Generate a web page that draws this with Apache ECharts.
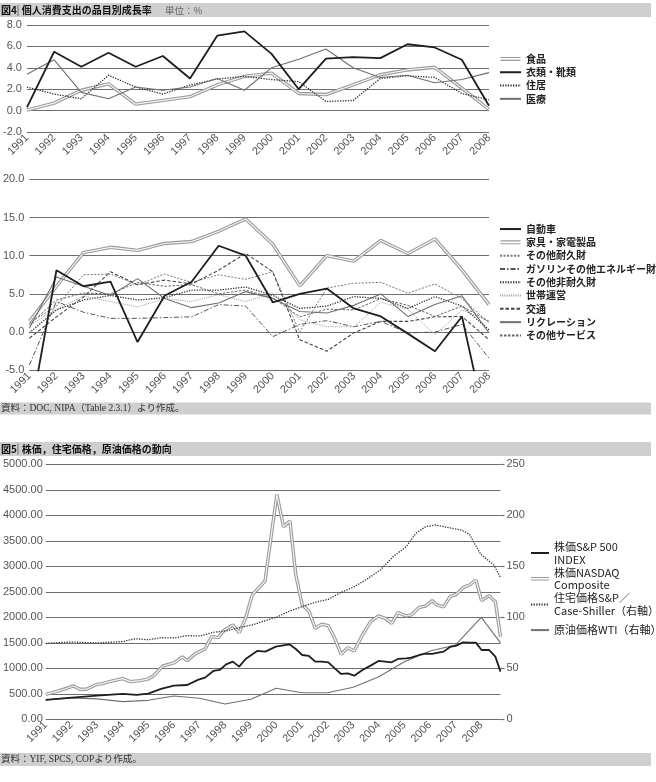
<!DOCTYPE html>
<html>
<head>
<meta charset="utf-8">
<script src="https://cdn.jsdelivr.net/npm/echarts@6/dist/echarts.min.js"></script>
<style>
html, body { margin: 0; padding: 0; background: #fff; }
#main { width: 656px; height: 782px; }
</style>
</head>
<body>
<div id="main"></div>
<script>
// 年（図4の横軸）
var years = ['1991', '1992', '1993', '1994', '1995', '1996', '1997', '1998', '1999',
    '2000', '2001', '2002', '2003', '2004', '2005', '2006', '2007', '2008'];

// 図4 上段（%）
var food = [0.05, 0.7, 1.9, 2.5, 0.6, 0.95, 1.3, 2.4, 3.2, 3.5, 1.6, 1.5, 2.4, 3.35, 3.8, 4.05, 2.1, 0.1];
var clothing = [0.3, 5.5, 4.1, 5.4, 4.1, 5.1, 3.0, 7.0, 7.4, 5.3, 2.0, 4.85, 5.0, 4.9, 6.2, 5.9, 4.75, 0.45];
var housing = [2.2, 1.55, 1.1, 3.3, 2.2, 1.55, 2.4, 2.95, 3.2, 2.9, 2.7, 0.85, 0.95, 3.0, 3.25, 3.1, 1.6, 1.0];
var medical = [3.4, 4.75, 1.7, 1.1, 2.2, 1.9, 2.2, 3.0, 1.9, 4.0, 4.8, 5.75, 4.0, 3.1, 3.3, 2.6, 2.9, 3.55];

// 図4 下段（%）
var autos = [-11.5, 8.1, 6.0, 6.6, -1.3, 4.75, 6.6, 11.3, 10.0, 3.9, 5.0, 5.7, 3.1, 2.05, -0.2, -2.5, 2.05, -14];
var furniture = [1.4, 6.0, 10.4, 11.1, 10.7, 11.6, 11.85, 13.2, 14.8, 11.5, 6.05, 10.0, 9.3, 12.0, 10.3, 12.2, 8.15, 3.6];
var otherDurable = [1.2, 3.4, 7.5, 7.6, 6.2, 7.6, 6.5, 7.5, 6.9, 7.9, 0.0, 5.75, 6.4, 6.5, 5.1, 6.3, 4.4, 1.2];
var gasoline = [-4.3, 4.0, 2.6, 1.8, 1.8, 1.9, 2.0, 3.6, 3.4, -0.6, 1.0, 1.5, 0.7, 1.4, -0.1, 0.0, 1.0, -3.4];
var otherNondurable = [-0.1, 2.9, 4.2, 4.8, 4.2, 4.5, 5.5, 5.5, 5.9, 4.8, 3.1, 3.4, 4.65, 4.4, 3.1, 4.65, 3.4, 0.3];
var household = [0.9, 3.0, 4.7, 4.0, 3.3, 4.4, 4.0, 4.9, 4.0, 5.1, 1.6, 0.7, 0.7, 3.9, 3.0, -0.35, 2.9, 1.4];
var transport = [-0.8, 2.0, 4.6, 7.9, 6.2, 6.8, 6.3, 8.1, 10.3, 7.9, -1.0, -2.5, -0.1, 1.4, 1.4, 2.0, 2.05, -1.0];
var recreation = [0.5, 7.2, 6.0, 4.8, 7.0, 4.4, 3.2, 3.8, 5.3, 4.4, 2.7, 2.5, 3.5, 5.0, 2.05, 3.6, 4.75, -0.1];
var otherServices = [1.0, 4.2, 5.1, 5.0, 6.5, 6.0, 6.2, 5.0, 5.5, 4.5, 2.0, 3.0, 2.9, 4.4, 3.5, 2.05, 3.4, 1.4];

// 図5 [年, 値]
var sp500 = [[1991.0, 379], [1992.02, 425], [1993.0, 464], [1994.0, 497], [1994.55, 477], [1995.0, 503],
    [1995.5, 595], [1996.0, 660], [1996.52, 673], [1996.96, 778], [1997.22, 817], [1997.54, 948],
    [1997.79, 967], [1998.04, 1078], [1998.3, 1131], [1998.55, 1033], [1998.8, 1183], [1999.25, 1340],
    [1999.57, 1327], [1999.98, 1425], [2000.51, 1471], [2000.76, 1379], [2001.01, 1261], [2001.27, 1242],
    [2001.52, 1131], [2001.77, 1131], [2002.03, 1118], [2002.28, 1000], [2002.53, 889], [2002.79, 902],
    [2003.04, 856], [2003.36, 967], [2003.68, 1052], [2003.99, 1144], [2004.25, 1131], [2004.5, 1118],
    [2004.75, 1183], [2005.07, 1196], [2005.26, 1209], [2005.58, 1261], [2005.83, 1288], [2006.08, 1281],
    [2006.27, 1301], [2006.53, 1327], [2006.78, 1418], [2007.03, 1445], [2007.29, 1510], [2007.54, 1503],
    [2007.79, 1503], [2008.01, 1359], [2008.3, 1359], [2008.55, 1229], [2008.75, 935]];
var nasdaq = [[1991.0, 490], [1991.51, 556], [1992.08, 654], [1992.33, 588], [1992.59, 588], [1993.0, 686],
    [1993.22, 700], [1993.6, 752], [1994.0, 797], [1994.3, 739], [1994.68, 758], [1995.0, 791],
    [1995.25, 869], [1995.57, 1046], [1996.0, 1105], [1996.33, 1222], [1996.52, 1150], [1996.84, 1288],
    [1997.22, 1379], [1997.47, 1621], [1997.73, 1601], [1997.98, 1752], [1998.3, 1850], [1998.55, 1699],
    [1998.8, 1980], [1999.06, 2438], [1999.56, 2712], [2000.02, 4410], [2000.28, 3778], [2000.53, 3889],
    [2000.76, 2830], [2001.01, 2242], [2001.27, 2124], [2001.52, 1784], [2001.77, 1863], [2002.03, 1837],
    [2002.28, 1588], [2002.53, 1275], [2002.79, 1405], [2003.04, 1340], [2003.36, 1654], [2003.68, 1915],
    [2003.99, 2026], [2004.25, 1980], [2004.5, 1882], [2004.75, 2091], [2005.07, 2026], [2005.26, 2046],
    [2005.58, 2196], [2005.83, 2222], [2006.08, 2327], [2006.27, 2242], [2006.53, 2203], [2006.78, 2405],
    [2007.03, 2451], [2007.29, 2582], [2007.54, 2634], [2007.79, 2732], [2008.01, 2327], [2008.3, 2425],
    [2008.55, 2307], [2008.75, 1621]];
var housePrice = [[1991.0, 74.5], [1992.02, 75.8], [1993.0, 74.8], [1994.0, 76.2], [1994.49, 79], [1995.0, 78],
    [1995.5, 80], [1996.01, 79.7], [1996.52, 82], [1997.03, 81.7], [1997.54, 85.3], [1998.04, 86.6],
    [1998.55, 89.9], [1999.06, 92.5], [1999.57, 96.7], [2000.04, 100.5], [2000.51, 106], [2001.01, 110.5],
    [2001.52, 114.7], [2002.03, 117.6], [2002.53, 124.5], [2003.04, 130], [2003.55, 137.6], [2004.06, 146.4],
    [2004.56, 159.5], [2005.07, 169.3], [2005.45, 182.4], [2005.83, 188.9], [2006.21, 190.5], [2006.72, 187.9],
    [2007.22, 185.6], [2007.54, 181.4], [2007.73, 172.5], [2007.98, 161.8], [2008.49, 151.3], [2008.75, 138.9]];
var oil = [[1991, 19], [1992, 21], [1993, 20], [1994, 17.3], [1995, 18.6], [1996, 22.9], [1997, 20.6],
    [1998, 15], [1999, 19.6], [2000, 30.4], [2001, 26], [2002, 26], [2003, 31.4], [2004, 41.8],
    [2005, 56.5], [2006, 67], [2007, 72.9], [2008, 100], [2008.75, 75]];

// 軸の範囲 [min, max, interval]
var topRange = [-2, 8, 2];
var midRange = [-5, 20, 5];
var leftRange = [0, 5000, 500];
var rightRange = [0, 250, 50];
var yearRange = [1991, 2008.75, 1];

var NUM_FONT = '"Liberation Sans Narrow", "Liberation Sans", sans-serif';
var SANS_FONT = '"Liberation Sans", sans-serif';
var JP_FONT = '"Noto Sans CJK JP", sans-serif';
var GRID_LINE = { color: '#6e6e6e', width: 1.2 };

// 線の種類
var BLACK = { color: '#1e1e1e', width: 1.8 };
var GRAY = { color: '#707070', width: 1.1 };
var DOUBLE_OUT = { color: '#9a9a9a', width: 3.4 };
var DOUBLE_IN = { color: '#f4f4f4', width: 1.2 };
var DOTTED = { color: '#333', width: 1.3, type: [1.3, 1.3] };
var DOUBLE_ICON = 'path://M0,0H20V1.1H0ZM0,2.9H20V4H0Z';

function line(name, data, xi, yi, style, z) {
    return {
        name: name,
        type: 'line',
        xAxisIndex: xi,
        yAxisIndex: yi,
        data: data,
        symbol: 'none',
        z: z,
        itemStyle: { color: style.color },
        lineStyle: style,
        emphasis: { disabled: true },
        silent: true
    };
}

function catAxis(gi) {
    return {
        type: 'category', gridIndex: gi, data: years, boundaryGap: false,
        axisLine: { show: false }, axisTick: { show: false },
        axisLabel: { rotate: 45, interval: 0, margin: 4, fontSize: 11, color: '#555', fontFamily: NUM_FONT }
    };
}

function valAxis(gi, r, digits, pos) {
    return {
        type: 'value', gridIndex: gi, min: r[0], max: r[1], interval: r[2], position: pos || 'left',
        axisLine: { show: false }, axisTick: { show: false },
        splitLine: { lineStyle: GRID_LINE },
        axisLabel: {
            margin: 5, fontSize: 11, color: '#555', fontFamily: SANS_FONT,
            formatter: function (v) { return v.toFixed(digits); }
        }
    };
}

function legend(top, left, names, w) {
    return {
        top: top, left: left, orient: 'vertical', padding: 0, itemGap: 0,
        itemWidth: w, itemHeight: 4, itemStyle: { opacity: 0 }, selectedMode: false,
        textStyle: { fontSize: 10, fontWeight: 'bold', color: '#222', fontFamily: JP_FONT, lineHeight: 13.3 },
        data: names
    };
}

var chart = echarts.init(document.getElementById('main'));

var yRight = valAxis(2, rightRange, 0, 'right');
yRight.splitLine = { show: false };
yRight.axisTick = { show: true, length: 4, lineStyle: GRID_LINE };
yRight.axisLabel.margin = 6;

var yLeft = valAxis(2, leftRange, 2);
yLeft.axisLabel.margin = 3;
yLeft.axisLabel.fontSize = 11;

var mlh = 12.7;
var bottomLegend = {
    top: 553 - 1.5 * mlh, left: 530, orient: 'vertical', padding: 0, itemGap: 25.7 - 3 * mlh,
    itemWidth: 18, itemHeight: 4, itemStyle: { opacity: 0 }, selectedMode: false,
    textStyle: { fontSize: 11, color: '#222', fontFamily: JP_FONT, lineHeight: mlh, padding: [mlh, 0, 0, 0] },
    data: [
        '株価S&P 500\nINDEX',
        { name: '株価NASDAQ\nComposite', icon: DOUBLE_ICON, itemStyle: { opacity: 1 } },
        '住宅価格S&P／\nCase-Shiller（右軸）',
        { name: '原油価格WTI（右軸）', textStyle: { padding: [mlh, 0, mlh, 0] } }
    ]
};

var option = {
    animation: false,
    backgroundColor: '#fff',
    grid: [
        { left: 22.7, top: 25, width: 466.3, height: 107 },
        { left: 22.7, top: 179.3, width: 466.3, height: 191 },
        { left: 34, top: 464.3, width: 466.5, height: 255 }
    ],
    xAxis: [
        catAxis(0),
        catAxis(1),
        {
            type: 'value', gridIndex: 2, min: yearRange[0], max: yearRange[1], interval: yearRange[2],
            axisLine: { show: false }, axisTick: { show: false }, splitLine: { show: false },
            axisLabel: {
                rotate: 45, margin: 4, fontSize: 11, color: '#555', fontFamily: NUM_FONT,
                formatter: function (v) { return v % 1 === 0 ? String(v) : ''; }
            }
        }
    ],
    yAxis: [valAxis(0, topRange, 1), valAxis(1, midRange, 1), yLeft, yRight],
    legend: [
        legend(52.3, 499, [{ name: '食品', icon: DOUBLE_ICON, itemStyle: { opacity: 1 } }, '衣類・靴類', '住居', '医療'], 21),
        legend(222.4, 499, ['自動車', { name: '家具・家電製品', icon: DOUBLE_ICON, itemStyle: { opacity: 1 } },
            'その他耐久財', 'ガソリンその他エネルギー財', 'その他非耐久財', '世帯運営', '交通', 'リクレーション', 'その他サービス'], 21),
        bottomLegend
    ],
    series: [
        line('食品', food, 0, 0, DOUBLE_OUT, 2),
        line('食品', food, 0, 0, DOUBLE_IN, 3),
        line('衣類・靴類', clothing, 0, 0, BLACK, 5),
        line('住居', housing, 0, 0, DOTTED, 4),
        line('医療', medical, 0, 0, GRAY, 4),

        line('自動車', autos, 1, 1, BLACK, 6),
        line('家具・家電製品', furniture, 1, 1, DOUBLE_OUT, 2),
        line('家具・家電製品', furniture, 1, 1, DOUBLE_IN, 3),
        line('その他耐久財', otherDurable, 1, 1, { color: '#777', width: 1, type: [2, 1.5] }, 4),
        line('ガソリンその他エネルギー財', gasoline, 1, 1, { color: '#555', width: 1, type: [5, 2, 1.5, 2] }, 4),
        line('その他非耐久財', otherNondurable, 1, 1, DOTTED, 4),
        line('世帯運営', household, 1, 1, { color: '#999', width: 1, type: [1, 1.2] }, 4),
        line('交通', transport, 1, 1, { color: '#444', width: 1.1, type: [3.5, 2] }, 4),
        line('リクレーション', recreation, 1, 1, GRAY, 4),
        line('その他サービス', otherServices, 1, 1, { color: '#666', width: 1, type: [2.5, 1.5] }, 4),

        line('株価S&P 500\nINDEX', sp500, 2, 2, BLACK, 6),
        line('株価NASDAQ\nComposite', nasdaq, 2, 2, DOUBLE_OUT, 2),
        line('株価NASDAQ\nComposite', nasdaq, 2, 2, DOUBLE_IN, 3),
        line('住宅価格S&P／\nCase-Shiller（右軸）', housePrice, 2, 3, DOTTED, 4),
        line('原油価格WTI（右軸）', oil, 2, 3, GRAY, 4)
    ],
    graphic: [
        { type: 'rect', shape: { x: 0, y: 3, width: 651, height: 14 }, style: { fill: '#cfcfcf' }, silent: true },
        { type: 'text', x: 1, y: 10.5, style: { text: '図4', font: 'bold 10px ' + JP_FONT, fill: '#111', verticalAlign: 'middle' } },
        { type: 'line', shape: { x1: 18, y1: 5, x2: 18, y2: 16 }, style: { stroke: '#555', lineWidth: 0.8 } },
        { type: 'text', x: 21.7, y: 10.5, style: { text: '個人消費支出の品目別成長率', font: 'bold 10px ' + JP_FONT, fill: '#111', verticalAlign: 'middle' } },
        { type: 'text', x: 165, y: 10.5, style: { text: '単位：%', font: '9.5px ' + JP_FONT, fill: '#666', verticalAlign: 'middle' } },

        { type: 'rect', shape: { x: 0, y: 402.5, width: 651, height: 12 }, style: { fill: '#cfcfcf' }, silent: true },
        { type: 'text', x: 1, y: 408.5, style: { text: '資料：DOC, NIPA（Table 2.3.1）より作成。', font: '9.5px "Liberation Serif", ' + JP_FONT, fill: '#333', verticalAlign: 'middle' } },

        { type: 'rect', shape: { x: 0, y: 442, width: 651, height: 14 }, style: { fill: '#cfcfcf' }, silent: true },
        { type: 'text', x: 1, y: 449, style: { text: '図5', font: 'bold 10px ' + JP_FONT, fill: '#111', verticalAlign: 'middle' } },
        { type: 'line', shape: { x1: 18, y1: 443.5, x2: 18, y2: 454.5 }, style: { stroke: '#555', lineWidth: 0.8 } },
        { type: 'text', x: 21.7, y: 449, style: { text: '株価，住宅価格，原油価格の動向', font: 'bold 10px ' + JP_FONT, fill: '#111', verticalAlign: 'middle' } },

        { type: 'rect', shape: { x: 0, y: 753, width: 651, height: 13 }, style: { fill: '#cfcfcf' }, silent: true },
        { type: 'text', x: 1, y: 759.5, style: { text: '資料：YIF, SPCS, COPより作成。', font: '9.5px "Liberation Serif", ' + JP_FONT, fill: '#333', verticalAlign: 'middle' } }
    ]
};

chart.setOption(option);
</script>
</body>
</html>
